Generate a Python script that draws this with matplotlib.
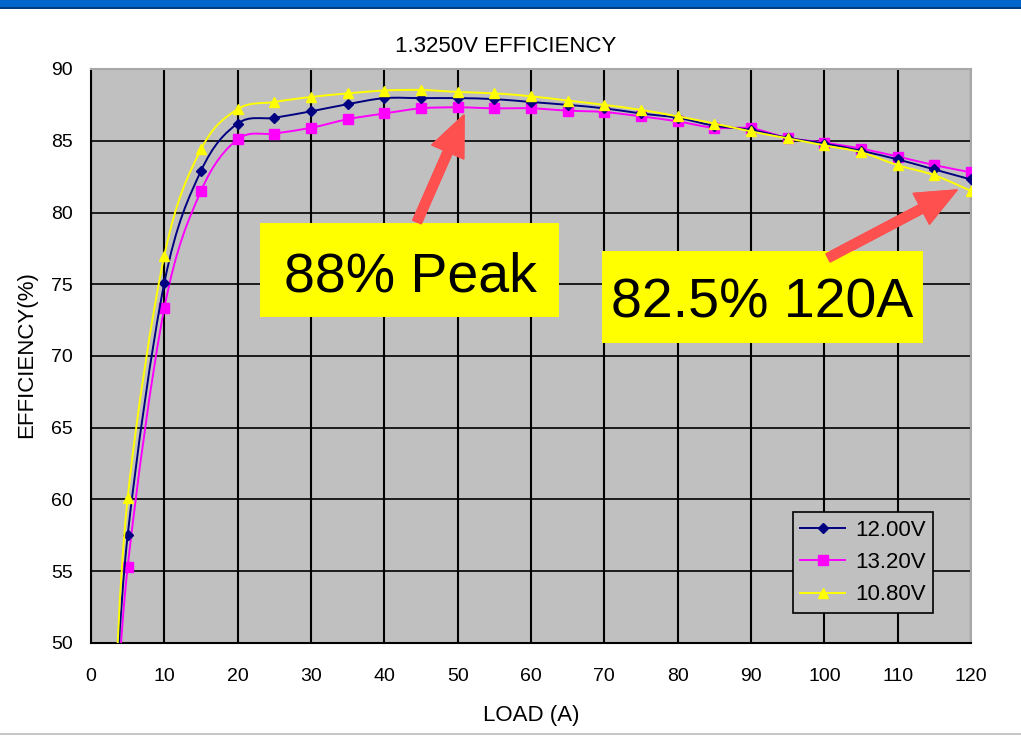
import matplotlib
matplotlib.use('Agg')
import matplotlib.pyplot as plt
from matplotlib.patches import Rectangle, PathPatch
from matplotlib.path import Path

plt.rcParams['font.family'] = ['Liberation Sans', 'DejaVu Sans']

# last (uneven) point at 3 A lies under the 50 % floor, so only the line shows
last_a = [3, 5, 10, 15, 20, 25, 30, 35, 40, 45, 50, 55, 60, 65, 70, 75, 80,
          85, 90, 95, 100, 105, 110, 115, 120]

eff_1200 = [42.5, 57.5, 75.1, 82.9, 86.2, 86.6, 87.05, 87.55, 87.97, 87.97, 87.97,
            87.9, 87.7, 87.5, 87.26, 86.9, 86.6, 86.05, 85.75, 85.2, 84.8, 84.3,
            83.7, 83.0, 82.3]
eff_1320 = [40.7, 55.3, 73.35, 81.5, 85.1, 85.5, 85.9, 86.5, 86.9, 87.26, 87.33,
            87.26, 87.26, 87.1, 87.0, 86.7, 86.35, 85.9, 85.87, 85.2, 84.87, 84.45,
            83.9, 83.3, 82.8]
eff_1080 = [43.3, 60.1, 77.0, 84.4, 87.2, 87.7, 88.05, 88.3, 88.5, 88.54, 88.4,
            88.3, 88.1, 87.8, 87.5, 87.15, 86.7, 86.2, 85.65, 85.17, 84.68, 84.2,
            83.3, 82.6, 81.5]

serie_navn = ['12.00V', '13.20V', '10.80V']
x_ticks = list(range(0, 121, 10))
y_ticks = list(range(50, 91, 5))


# glatt linje som i Excel (Catmull-Rom tegnet som Bezier-kurver)
def glatt_sti(xs, ys):
    pkt = list(zip(xs, ys))
    verts = [pkt[0]]
    koder = [Path.MOVETO]
    for i in range(len(pkt) - 1):
        p0 = pkt[i - 1] if i > 0 else pkt[i]
        p1 = pkt[i]
        p2 = pkt[i + 1]
        p3 = pkt[i + 2] if i + 2 < len(pkt) else pkt[i + 1]
        c1 = (p1[0] + (p2[0] - p0[0]) / 6, p1[1] + (p2[1] - p0[1]) / 6)
        c2 = (p2[0] - (p3[0] - p1[0]) / 6, p2[1] - (p3[1] - p1[1]) / 6)
        verts += [c1, c2, p2]
        koder += [Path.CURVE4] * 3
    return Path(verts, koder)


W, H = 1021, 740
fig = plt.figure(figsize=(W / 100, H / 100), dpi=100)
fig.patch.set_facecolor('white')

# ramme rundt figuren
fig.patches.append(Rectangle((0, 1 - 7 / H), 1, 7 / H, transform=fig.transFigure,
                             facecolor='#0066CC', edgecolor='none'))
fig.patches.append(Rectangle((0, 1 - 9 / H), 1, 2 / H, transform=fig.transFigure,
                             facecolor='#003C80', edgecolor='none'))
fig.patches.append(Rectangle((0, 5 / H), 1, 2 / H, transform=fig.transFigure,
                             facecolor='#C8C8C8', edgecolor='none'))

ax = fig.add_axes([91 / W, 1 - 643 / H, 880 / W, 574 / H])
ax.set_facecolor('#C0C0C0')

serier = [(eff_1200, '#000080', 'D', 5.5, 4),
          (eff_1320, '#FF00FF', 's', 6.5, 3),
          (eff_1080, '#FFFF00', '^', 7, 5)]
for (verdier, farge, mk, ms, z), navn in zip(serier, serie_navn):
    ax.add_patch(PathPatch(glatt_sti(last_a, verdier), facecolor='none',
                           edgecolor=farge, lw=1.4, zorder=z))
    ax.plot(last_a, verdier, ls='none', color=farge, marker=mk, ms=ms, zorder=z)
    ax.plot([], [], color=farge, lw=1.4, marker=mk, ms=ms, label=navn)

ax.set_xlim(0, 120)
ax.set_ylim(50, 90)
ax.set_xticks(x_ticks)
ax.set_yticks(y_ticks)
ax.tick_params(length=0, labelsize=14)
ax.tick_params(axis='x', pad=18)
ax.tick_params(axis='y', pad=13)
ax.grid(axis='x', color='black', lw=1.5, zorder=1)
ax.grid(axis='y', color='black', lw=1.2, zorder=1)
ax.set_axisbelow(True)

for s in ['left', 'bottom']:
    ax.spines[s].set_color('black')
    ax.spines[s].set_linewidth(1.5)
for s in ['top', 'right']:
    ax.spines[s].set_color('#A8A8A8')
    ax.spines[s].set_linewidth(1.5)

fig.text(506 / W, 1 - 46 / H, '1.3250V EFFICIENCY', ha='center', va='center', fontsize=16)
fig.text(531 / W, 1 - 715 / H, 'LOAD (A)', ha='center', va='center', fontsize=16)
fig.text(27 / W, 1 - 355 / H, 'EFFICIENCY(%)', ha='center', va='center',
         rotation=90, fontsize=16)

leg = ax.legend(loc='lower right', bbox_to_anchor=(0.957, 0.052), borderaxespad=0,
                fontsize=16, fancybox=False, framealpha=1, facecolor='#C0C0C0',
                edgecolor='black', handlelength=2.0, handletextpad=0.45,
                labelspacing=0.5, borderpad=0.35)
leg.get_frame().set_linewidth(1.2)
leg.set_zorder(10)

# gule bokser med tekst
fig.patches.append(Rectangle((260 / W, 1 - 317 / H), 299 / W, 94 / H,
                             transform=fig.transFigure, facecolor='#FFFF00',
                             edgecolor='none', zorder=20))
fig.patches.append(Rectangle((602 / W, 1 - 343 / H), 321 / W, 92 / H,
                             transform=fig.transFigure, facecolor='#FFFF00',
                             edgecolor='none', zorder=20))
fig.text(410 / W, 1 - 272 / H, '88% Peak', ha='center', va='center_baseline',
         fontsize=40, zorder=21)
fig.text(762 / W, 1 - 298 / H, '82.5% 120A', ha='center', va='center_baseline',
         fontsize=40, zorder=21)

# røde piler
pil = dict(arrowstyle='simple,head_length=1.45,head_width=1.25,tail_width=0.33',
           color='#FF5050', mutation_scale=20, shrinkA=0, shrinkB=0)
fig.add_artist(plt.annotate('', xy=(464 / W, 1 - 115 / H), xytext=(417 / W, 1 - 222 / H),
                            xycoords='figure fraction', textcoords='figure fraction',
                            arrowprops=pil, zorder=22))
fig.add_artist(plt.annotate('', xy=(957 / W, 1 - 190 / H), xytext=(828 / W, 1 - 258 / H),
                            xycoords='figure fraction', textcoords='figure fraction',
                            arrowprops=pil, zorder=22))

fig.savefig('out.png', dpi=100)
